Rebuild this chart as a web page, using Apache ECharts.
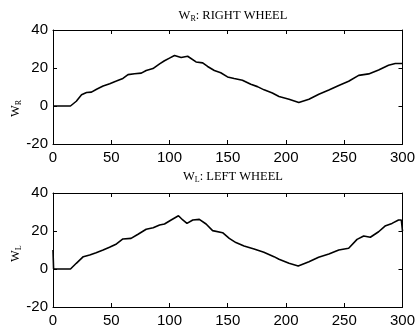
<!DOCTYPE html>
<html><head><meta charset="utf-8">
<script src="https://cdn.jsdelivr.net/npm/echarts@6/dist/echarts.min.js"></script>
<style>html,body{margin:0;padding:0;background:#fff}#c{width:418px;height:331px}</style>
</head><body><div id="c"></div>
<script>
// ---- data ----
const xTicks = [0, 50, 100, 150, 200, 250, 300];
const yTicks = [-20, 0, 20, 40];
const rightX = [0,15,20,24.5,28.8,33,37.4,43,48.7,54.4,60,64.4,70,75.8,80,85.8,91.5,95.7,100,104.3,110,115.6,122.8,128.5,132.7,138.5,144,149.8,155.5,162.6,169.8,175.5,181.2,188.3,194,202.6,211,219.7,228.2,236.8,245.3,253.8,262.4,271,279.5,288,293.8,300];
const rightY = [0,0,2.5,5.9,7.1,7.3,8.8,10.5,11.7,13.1,14.5,16.5,17,17.3,18.7,19.7,22.2,23.8,25.2,26.6,25.5,26.2,23.2,22.7,20.8,18.7,17.5,15.3,14.5,13.6,11.4,10.2,8.5,6.8,5.0,3.6,1.9,3.6,6.2,8.4,10.8,13,16.1,16.9,19,21.4,22.4,22.4];
const leftX = [0,0.5,15,20,26,31.5,37,43,48.5,54.5,60,67,73,80,86,91.5,95.7,101.4,107.7,111.4,115,120,125.6,131.4,137,145.6,151.3,157,164,172.6,181,189.7,194,202.6,210.5,219.7,228,236.8,245.3,253.8,261,266.7,272.4,279.5,285,291,296.6,299,300];
const leftY = [10,0,0,3.0,6.5,7.4,8.6,10,11.4,13.2,15.8,16.1,18.3,20.9,21.7,23.2,23.7,25.8,28,25.8,24,25.8,26.1,23.7,20.2,19.1,16.1,13.9,12.1,10.5,8.8,6.5,5.1,3.0,1.6,3.8,6.2,7.9,10,10.9,15.6,17.4,16.7,19.6,22.6,24,25.8,25.8,20];

const pair = (xs, ys) => xs.map((x, i) => [x, ys[i]]);
const labelFont = {color:'#000', fontFamily:'Liberation Sans, Arial, sans-serif', fontSize:15};
const axLine = {show:true, onZero:false, lineStyle:{color:'#000', width:1}};
const tick = {show:true, inside:true, length:4, lineStyle:{color:'#000'}};

function xAx(grid, pos, labels) {
  return {type:'value', gridIndex:grid, position:pos, min:xTicks[0], max:xTicks[xTicks.length-1],
    interval:xTicks[1]-xTicks[0], axisLine:axLine, axisTick:tick, splitLine:{show:false},
    axisLabel: labels ? Object.assign({margin:6}, labelFont) : {show:false}};
}
function yAx(grid, pos, labels) {
  return {type:'value', gridIndex:grid, position:pos, min:yTicks[0], max:yTicks[yTicks.length-1],
    interval:yTicks[1]-yTicks[0], axisLine:axLine, axisTick:tick, splitLine:{show:false},
    axisLabel: labels ? Object.assign({margin:5}, labelFont) : {show:false}};
}
const serif = 'Liberation Serif, Times New Roman, serif';
const titleRich = {
  m:{fontFamily:serif, fontSize:12.5, fontWeight:'normal', color:'#000'},
  s:{fontFamily:serif, fontSize:8, fontWeight:'normal', color:'#000', verticalAlign:'bottom', padding:[6,0,0,0]}
};
const chart = echarts.init(document.getElementById('c'), null, {renderer:'canvas'});
chart.setOption({
  animation:false,
  backgroundColor:'#fff',
  title:[
    {text:'{m|W}{s|R}{m|: RIGHT WHEEL}', left:228, top:4, textAlign:'center', textStyle:{fontWeight:'normal', rich:titleRich}},
    {text:'{m|W}{s|L}{m|: LEFT WHEEL}', left:228, top:165, textAlign:'center', textStyle:{fontWeight:'normal', rich:titleRich}}
  ],
  grid:[
    {left:53, top:30, width:351, height:114},
    {left:53, top:193, width:351, height:114}
  ],
  xAxis:[xAx(0,'bottom',true), xAx(0,'top',false), xAx(1,'bottom',true), xAx(1,'top',false)],
  yAxis:[yAx(0,'left',true), yAx(0,'right',false), yAx(1,'left',true), yAx(1,'right',false)],
  graphic:[
    {type:'text', x:9, y:117, rotation:Math.PI/2, style:{text:'{m|W}{s|R}', rich:titleRich, fill:'#000'}},
    {type:'text', x:9, y:262, rotation:Math.PI/2, style:{text:'{m|W}{s|L}', rich:titleRich, fill:'#000'}}
  ],
  series:[
    {type:'line', xAxisIndex:0, yAxisIndex:0, data:pair(rightX, rightY), showSymbol:false, lineStyle:{color:'#000', width:1.6}},
    {type:'line', xAxisIndex:2, yAxisIndex:2, data:pair(leftX, leftY), showSymbol:false, lineStyle:{color:'#000', width:1.6}}
  ]
});
</script></body></html>
